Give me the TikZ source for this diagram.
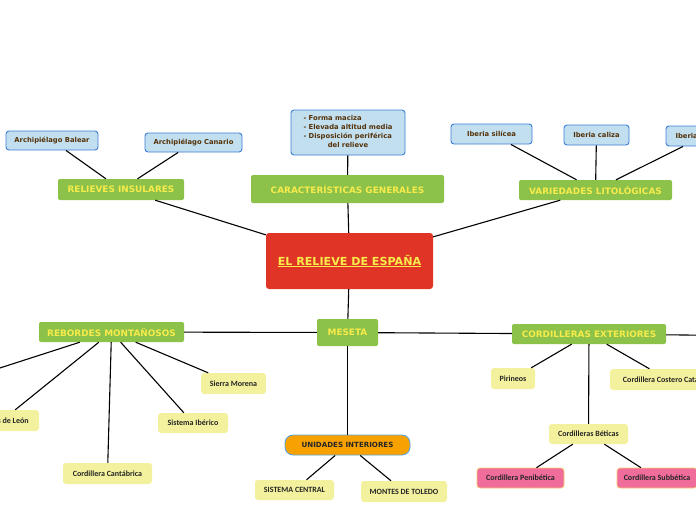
\documentclass[tikz,border=0pt]{standalone}
\usepackage{fontspec}
\setmainfont{DejaVu Sans}
\newfontfamily\leaffont{Carlito}
\usepackage{tikz}
\usetikzlibrary{positioning}
\definecolor{rootred}{RGB}{224,53,38}
\definecolor{topicgreen}{RGB}{140,193,74}
\definecolor{topictext}{RGB}{247,236,75}
\definecolor{noteblue}{RGB}{193,223,238}
\definecolor{noteedge}{RGB}{59,125,216}
\definecolor{notetext}{RGB}{85,50,10}
\definecolor{leafyellow}{RGB}{243,241,157}
\definecolor{leafpink}{RGB}{240,108,155}
\definecolor{unitorange}{RGB}{247,162,0}
\definecolor{unitedge}{RGB}{90,164,224}

\begin{document}
\begin{tikzpicture}[x=1pt,y=-1pt,
    mapline/.style={black,line width=1.1pt},
    rootbox/.style={fill=rootred,rounded corners=3pt,text=topictext,inner sep=0pt,
        font=\fontsize{11.1}{13}\selectfont\bfseries},
    topic/.style={fill=topicgreen,rounded corners=2pt,text=topictext,inner sep=0pt,
        font=\fontsize{8.9}{10}\selectfont\bfseries},
    note/.style={fill=noteblue,draw=noteedge,line width=0.9pt,rounded corners=3pt,
        text=notetext,inner sep=0pt,font=\fontsize{6.8}{9}\selectfont\bfseries},
    leaf/.style={fill=leafyellow,rounded corners=3pt,text=black!85,inner sep=0pt,
        font=\leaffont\fontsize{8}{9}\selectfont\bfseries},
    pinkleaf/.style={leaf,fill=leafpink,draw=leafyellow!70!orange,line width=0.7pt},
    unitbox/.style={fill=unitorange,draw=unitedge,line width=0.9pt,rounded corners=8pt,
        text=black!85,inner sep=0pt,font=\fontsize{7.1}{8}\selectfont\bfseries}]
  \useasboundingbox (0,0) rectangle (696,520);
  \clip (0,0) rectangle (696,520);

  % Central topic
  \node[rootbox,minimum width=167,minimum height=56] (relieve) at (349.5,261)
      {\underline{EL RELIEVE DE ESPAÑA}};

  % Main topics
  \node[topic,minimum width=126,minimum height=21] (insulares) at (121,189.5) {RELIEVES INSULARES};
  \node[topic,minimum width=193,minimum height=28] (caract) at (347.5,189) {CARACTERÍSTICAS GENERALES};
  \node[topic,minimum width=153,minimum height=20] (variedades) at (595.5,190) {VARIEDADES LITOLÓGICAS};
  \node[topic,minimum width=145,minimum height=20] (rebordes) at (111.5,332) {REBORDES MONTAÑOSOS};
  \node[topic,minimum width=61,minimum height=27] (meseta) at (347.5,332.5) {MESETA};
  \node[topic,minimum width=154,minimum height=20] (exteriores) at (589,334) {CORDILLERAS EXTERIORES};

  % Notes
  \node[note,minimum width=92,minimum height=19] (balear) at (52,140.5) {Archipiélago Balear};
  \node[note,minimum width=97,minimum height=19] (canario) at (193.5,142.5) {Archipiélago Canario};
  \node[note,minimum width=114,minimum height=45] (rasgos) at (348,132.5)
      {\begin{tabular}{@{}l@{}}- Forma maciza\\- Elevada altitud media\\
       - Disposición periférica\\\multicolumn{1}{@{}c@{}}{del relieve}\end{tabular}};
  \node[note,minimum width=81,minimum height=20] (silicea) at (491.5,134) {Iberia silícea};
  \node[note,minimum width=65,minimum height=20] (caliza) at (596.5,135) {Iberia caliza};
  \node[note,minimum width=76,minimum height=20] (arcillosa) at (704,136) {Iberia arcillosa};

  % Rebordes
  \coordinate (offleft) at (-56,386);
  \node[leaf,minimum width=74,minimum height=21] (leon) at (2,420.5) {Montes de León};
  \node[leaf,minimum width=89,minimum height=21] (cantabrica) at (107.5,473.5) {Cordillera Cantábrica};
  \node[leaf,minimum width=70,minimum height=20] (iberico) at (193,423) {Sistema Ibérico};
  \node[leaf,minimum width=65,minimum height=21] (morena) at (233.5,383.5) {Sierra Morena};

  % Meseta
  \node[unitbox,minimum width=125,minimum height=20] (unidades) at (347.5,445) {UNIDADES INTERIORES};
  \node[leaf,minimum width=79,minimum height=20] (central) at (294.5,490) {SISTEMA CENTRAL};
  \node[leaf,minimum width=86,minimum height=21] (toledo) at (404,491.5) {MONTES DE TOLEDO};

  % Cordilleras exteriores
  \coordinate (offright) at (780,336);
  \node[leaf,minimum width=44,minimum height=21] (pirineos) at (513,378.5) {Pirineos};
  \node[leaf,minimum width=116,minimum height=21] (catalana) at (668,379.5) {Cordillera Costero Catalana};
  \node[leaf,minimum width=79,minimum height=20] (beticas) at (588.5,434) {Cordilleras Béticas};
  \node[pinkleaf,minimum width=87,minimum height=20] (penibetica) at (520.5,478) {Cordillera Penibética};
  \node[pinkleaf,minimum width=80,minimum height=20] (subbetica) at (657,478) {Cordillera Subbética};

  % Connectors
  \draw[mapline] (relieve) -- (insulares);
  \draw[mapline] (relieve) -- (caract);
  \draw[mapline] (relieve) -- (variedades);
  \draw[mapline] (relieve) -- (meseta);
  \draw[mapline] (meseta) -- (rebordes);
  \draw[mapline] (meseta) -- (exteriores);
  \draw[mapline] (insulares) -- (balear);
  \draw[mapline] (insulares) -- (canario);
  \draw[mapline] (caract) -- (rasgos);
  \draw[mapline] (variedades) -- (silicea);
  \draw[mapline] (variedades) -- (caliza);
  \draw[mapline] (variedades) -- (arcillosa);
  \draw[mapline] (rebordes) -- (offleft);
  \draw[mapline] (rebordes) -- (leon);
  \draw[mapline] (rebordes) -- (cantabrica);
  \draw[mapline] (rebordes) -- (iberico);
  \draw[mapline] (rebordes) -- (morena);
  \draw[mapline] (meseta) -- (unidades);
  \draw[mapline] (unidades) -- (central);
  \draw[mapline] (unidades) -- (toledo);
  \draw[mapline] (exteriores) -- (offright);
  \draw[mapline] (exteriores) -- (pirineos);
  \draw[mapline] (exteriores) -- (catalana);
  \draw[mapline] (exteriores) -- (beticas);
  \draw[mapline] (beticas) -- (penibetica);
  \draw[mapline] (beticas) -- (subbetica);
\end{tikzpicture}
\end{document}
